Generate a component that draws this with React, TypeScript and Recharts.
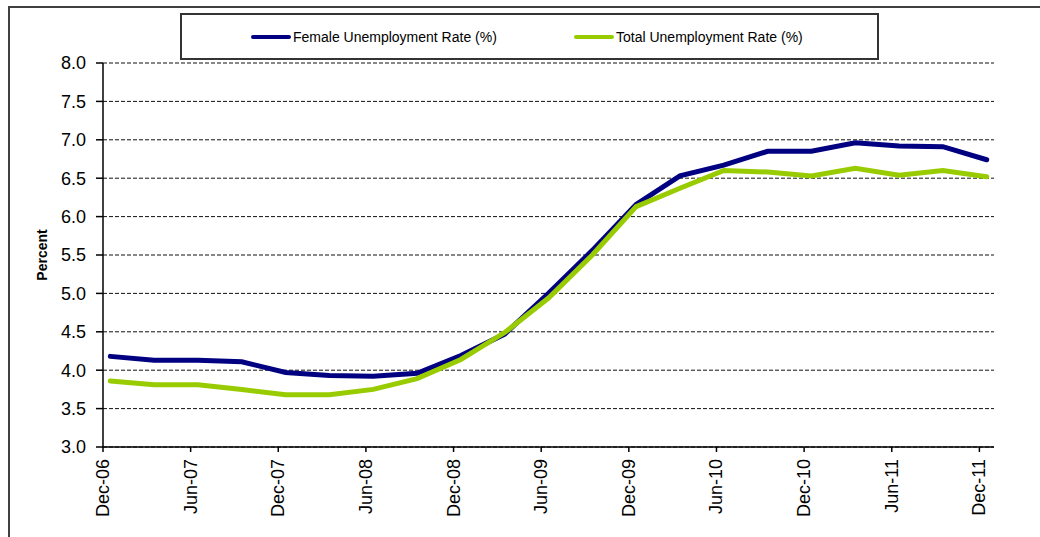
import React from 'react';
import { LineChart, Line, XAxis, YAxis, CartesianGrid, Legend } from 'recharts';

const quarters = [
  'Dec-06', 'Mar-07', 'Jun-07', 'Sep-07', 'Dec-07', 'Mar-08', 'Jun-08', 'Sep-08',
  'Dec-08', 'Mar-09', 'Jun-09', 'Sep-09', 'Dec-09', 'Mar-10', 'Jun-10', 'Sep-10',
  'Dec-10', 'Mar-11', 'Jun-11', 'Sep-11', 'Dec-11',
];

const female = [
  4.18, 4.13, 4.13, 4.11, 3.97, 3.93, 3.92, 3.96,
  4.19, 4.47, 5.0, 5.56, 6.16, 6.53, 6.67, 6.85,
  6.85, 6.96, 6.92, 6.91, 6.74,
];

const total = [
  3.86, 3.81, 3.81, 3.75, 3.68, 3.68, 3.75, 3.89,
  4.14, 4.49, 4.94, 5.5, 6.13, 6.37, 6.6, 6.58,
  6.53, 6.63, 6.54, 6.6, 6.52,
];

const xTickLabels = [
  'Dec-06', 'Jun-07', 'Dec-07', 'Jun-08', 'Dec-08', 'Jun-09',
  'Dec-09', 'Jun-10', 'Dec-10', 'Jun-11', 'Dec-11',
];

const yTicks = [3, 3.5, 4, 4.5, 5, 5.5, 6, 6.5, 7, 7.5, 8];

// months since Dec-06; observations sit mid-month on the date axis
const data = quarters.map((q, i) => ({
  month: i * 3 + 0.5,
  label: q,
  female: female[i],
  total: total[i],
}));

const xTicks = xTickLabels.map((_, i) => i * 6);

const FONT = '"Liberation Sans", Arial, sans-serif';

const XTick = (props: any) => {
  const { x, y, payload } = props;
  const label = xTickLabels[Math.round(payload.value / 6)];
  return (
    <g transform={`translate(${x},${y})`}>
      <text
        transform="rotate(-90)"
        x={0}
        y={6}
        textAnchor="end"
        fontSize={18}
        fontFamily={FONT}
        fill="#000"
      >
        {label}
      </text>
    </g>
  );
};

const LegendBox = (props: any) => {
  const items = props.payload || [];
  return (
    <div
      style={{
        width: 695,
        height: 43,
        border: '2px solid #333',
        background: '#fff',
        position: 'relative',
        fontFamily: FONT,
        fontSize: 14,
      }}
    >
      {items.map((it: any, i: number) => (
        <div
          key={it.value}
          style={{
            position: 'absolute',
            left: i === 0 ? 69 : 392,
            top: 0,
            height: 43,
            display: 'flex',
            alignItems: 'center',
          }}
        >
          <span
            style={{
              display: 'inline-block',
              width: 40,
              height: 4,
              borderRadius: 2,
              background: it.color,
              marginRight: 2,
            }}
          />
          <span style={{ color: '#000' }}>{it.value}</span>
        </div>
      ))}
    </div>
  );
};

export default function App() {
  return (
    <div
      style={{
        position: 'absolute',
        left: 0,
        top: 0,
        width: 1040,
        height: 537,
        overflow: 'hidden',
        background: '#fff',
        fontFamily: FONT,
      }}
    >
      <div
        style={{
          position: 'absolute',
          left: 8,
          top: 6,
          width: 1100,
          height: 600,
          border: '2px solid #404040',
        }}
      />
      <div style={{ position: 'absolute', left: 0, top: 0 }}>
        <LineChart
          width={1040}
          height={537}
          data={data}
          margin={{ top: 63, right: 46, bottom: 0, left: 43 }}
        >
          <CartesianGrid
            vertical={false}
            stroke="#111"
            strokeDasharray="4 2"
          />
          <XAxis
            dataKey="month"
            type="number"
            domain={[0, 61]}
            ticks={xTicks}
            interval={0}
            height={90}
            tickSize={5}
            tickMargin={7}
            tick={<XTick />}
            axisLine={{ stroke: '#000', strokeWidth: 1.5 }}
            tickLine={{ stroke: '#000', strokeWidth: 1.5 }}
          />
          <XAxis
            xAxisId="top"
            orientation="top"
            dataKey="month"
            type="number"
            domain={[0, 61]}
            height={0}
            tick={false}
            tickLine={false}
            axisLine={{ stroke: '#aaa', strokeDasharray: '2 1' }}
          />
          <YAxis
            domain={[3, 8]}
            ticks={yTicks}
            interval={0}
            width={60}
            tickSize={7}
            tickMargin={10}
            tickFormatter={(v: number) => v.toFixed(1)}
            tick={{ fill: '#000', fontSize: 18, fontFamily: FONT }}
            axisLine={{ stroke: '#000', strokeWidth: 1.5 }}
            tickLine={{ stroke: '#000', strokeWidth: 1.5 }}
            label={{
              value: 'Percent',
              angle: -90,
              position: 'insideLeft',
              offset: 0,
              dx: -1,
              style: { fontWeight: 'bold', fontSize: 14, fill: '#000', fontFamily: FONT, textAnchor: 'middle' },
            }}
          />
          <YAxis
            yAxisId="right"
            orientation="right"
            domain={[3, 8]}
            width={0}
            tick={false}
            tickLine={false}
            axisLine={{ stroke: '#999', strokeWidth: 1.5 }}
          />
          <Legend
            layout="horizontal"
            verticalAlign="middle"
            align="center"
            content={<LegendBox />}
            wrapperStyle={{ top: 13, left: 180, width: 699, height: 47 }}
          />
          <Line
            type="linear"
            dataKey="female"
            name="Female Unemployment Rate (%)"
            stroke="#000080"
            strokeWidth={5}
            strokeLinecap="round"
            dot={false}
            isAnimationActive={false}
          />
          <Line
            type="linear"
            dataKey="total"
            name="Total Unemployment Rate (%)"
            stroke="#99CC00"
            strokeWidth={5}
            strokeLinecap="round"
            dot={false}
            isAnimationActive={false}
          />
        </LineChart>
      </div>
    </div>
  );
}
